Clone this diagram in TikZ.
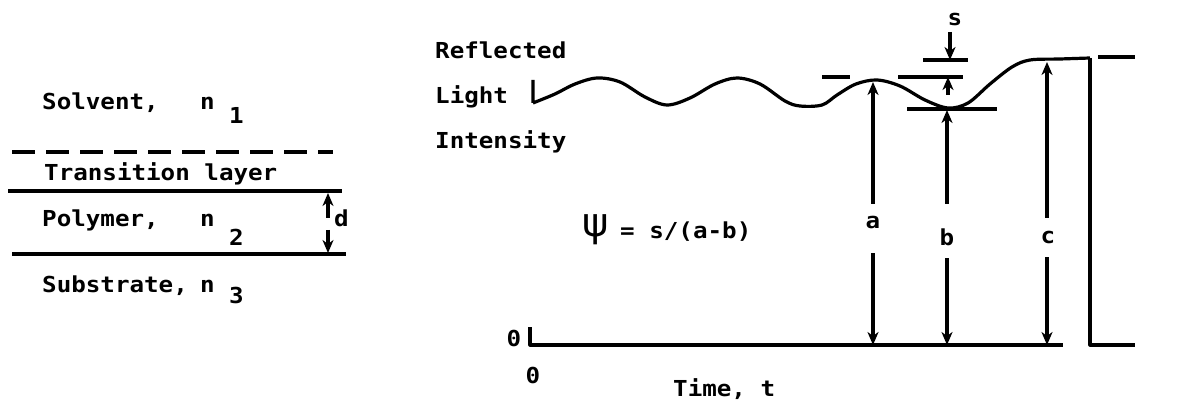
\documentclass[tikz,border=0pt]{standalone}
\usepackage{fontspec}
\usetikzlibrary{arrows.meta}
\newfontfamily\typew{DejaVu Sans Mono Bold}[FakeStretch=1.1]
\newfontfamily\greekf{DejaVu Sans}
\tikzset{
  lbl/.style={font=\typew\fontsize{22}{26}\selectfont, inner sep=0pt},
  ln/.style={line width=3.2pt},
  arr/.style={line width=3.2pt, -{Stealth[length=13pt,width=11pt,inset=4pt]}},
}
\begin{document}
\begin{tikzpicture}[x=1pt,y=-1pt]
\useasboundingbox (0,0) rectangle (1186,406);
% ---------- left panel ----------
\node[lbl, anchor=base west] (solv) at (42,110) {Solvent,};
\node[lbl, anchor=base west] (n1) at (200,110) {n};
\node[lbl, anchor=base west] (n1s) at (229,124) {1};
\coordinate (dashL) at (12,152);
\coordinate (dashR) at (333,152);
\draw[ln, dash pattern=on 23pt off 11pt] (dashL) -- (dashR);
\node[lbl, anchor=base west] (trans) at (44,181) {Transition layer};
\coordinate (l1L) at (8,191);
\coordinate (l1R) at (342,191);
\draw[ln] (l1L) -- (l1R);
\node[lbl, anchor=base west] (poly) at (42,227) {Polymer,};
\node[lbl, anchor=base west] (n2) at (200,227) {n};
\node[lbl, anchor=base west] (n2s) at (229,245) {2};
\coordinate (l2L) at (12,254);
\coordinate (l2R) at (346,254);
\draw[ln] (l2L) -- (l2R);
\node[lbl, anchor=base west] (subs) at (42,292) {Substrate,};
\node[lbl, anchor=base west] (n3) at (200,292) {n};
\node[lbl, anchor=base west] (n3s) at (229,303) {3};
\coordinate (dUp0) at (328,218);
\coordinate (dUp1) at (328,193);
\coordinate (dDn0) at (328,230);
\coordinate (dDn1) at (328,253);
\draw[arr] (dUp0) -- (dUp1);
\draw[arr] (dDn0) -- (dDn1);
\node[lbl, anchor=base west] (dlab) at (334,226) {d};
% ---------- right panel ----------
\node[lbl, anchor=west] (refl) at (435,50) {Reflected};
\node[lbl, anchor=west] (light) at (435,97) {Light};
\node[lbl, anchor=west] (inten) at (435,142) {Intensity};
\coordinate (Ltop) at (533,80);
\coordinate (Lbot) at (533,103);
\coordinate (topEnd) at (1090,58);
\draw[ln, line join=round] (Ltop) -- (Lbot)
  plot[smooth, tension=0.55] coordinates {(533,103) (555,94) (575,84) (597,78) (620,82) (645,97) (667,105) (690,98) (715,84) (737,78) (760,84) (785,101) (800,106) (822,105) (837,95) (856,84) (877,80) (900,86) (925,100) (948,108) (968,103) (990,84) (1012,67) (1030,60) (1060,59) (1090,58)};
\coordinate (stepBot) at (1090,345);
\coordinate (stepEnd) at (1135,345);
\draw[ln, line join=round] (topEnd) -- (stepBot) -- (stepEnd);
% ticks
\coordinate (tA0) at (822,77); \coordinate (tA1) at (850,77);
\draw[ln] (tA0) -- (tA1);
\coordinate (tS0) at (923,60); \coordinate (tS1) at (968,60);
\draw[ln] (tS0) -- (tS1);
\coordinate (tL0) at (898,77); \coordinate (tL1) at (963,77);
\draw[ln] (tL0) -- (tL1);
\coordinate (tB0) at (907,109); \coordinate (tB1) at (997,109);
\draw[ln] (tB0) -- (tB1);
\coordinate (tC0) at (1098,57); \coordinate (tC1) at (1135,57);
\draw[ln] (tC0) -- (tC1);
% s arrows
\node[lbl] (slab) at (955,19) {s};
\coordinate (sD0) at (950,32); \coordinate (sD1) at (950,60);
\draw[arr] (sD0) -- (sD1);
\coordinate (sU0) at (948,95); \coordinate (sU1) at (948,77);
\draw[arr] (sU0) -- (sU1);
% axes
\coordinate (axTop) at (530,327);
\coordinate (axO) at (530,345);
\coordinate (axEnd) at (1063,345);
\draw[ln, line join=round] (axTop) -- (axO) -- (axEnd);
\node[lbl] (zeroY) at (514,338) {0};
\node[lbl] (zeroX) at (533,375) {0};
\node[lbl, anchor=west] (time) at (673,389) {Time, t};
% a, b, c
\node[lbl] (alab) at (873,222) {a};
\node[lbl] (blab) at (947,237) {b};
\node[lbl] (clab) at (1048,237) {c};
\coordinate (aPk) at (873,82); \coordinate (aU) at (873,204);
\coordinate (aD) at (873,253); \coordinate (aB) at (873,345);
\draw[arr] (aU) -- (aPk);
\draw[arr] (aD) -- (aB);
\coordinate (bPk) at (947,110); \coordinate (bU) at (947,204);
\coordinate (bD) at (947,258); \coordinate (bB) at (947,345);
\draw[arr] (bU) -- (bPk);
\draw[arr] (bD) -- (bB);
\coordinate (cPk) at (1047,62); \coordinate (cU) at (1047,218);
\coordinate (cD) at (1047,257); \coordinate (cB) at (1047,345);
\draw[arr] (cU) -- (cPk);
\draw[arr] (cD) -- (cB);
% formula
\node[inner sep=0pt, font=\greekf\fontsize{40}{42}\selectfont] (psi) at (596,230) {ψ};
\node[lbl, anchor=west] (form) at (620,232) {= s/(a-b)};
\end{tikzpicture}
\end{document}
